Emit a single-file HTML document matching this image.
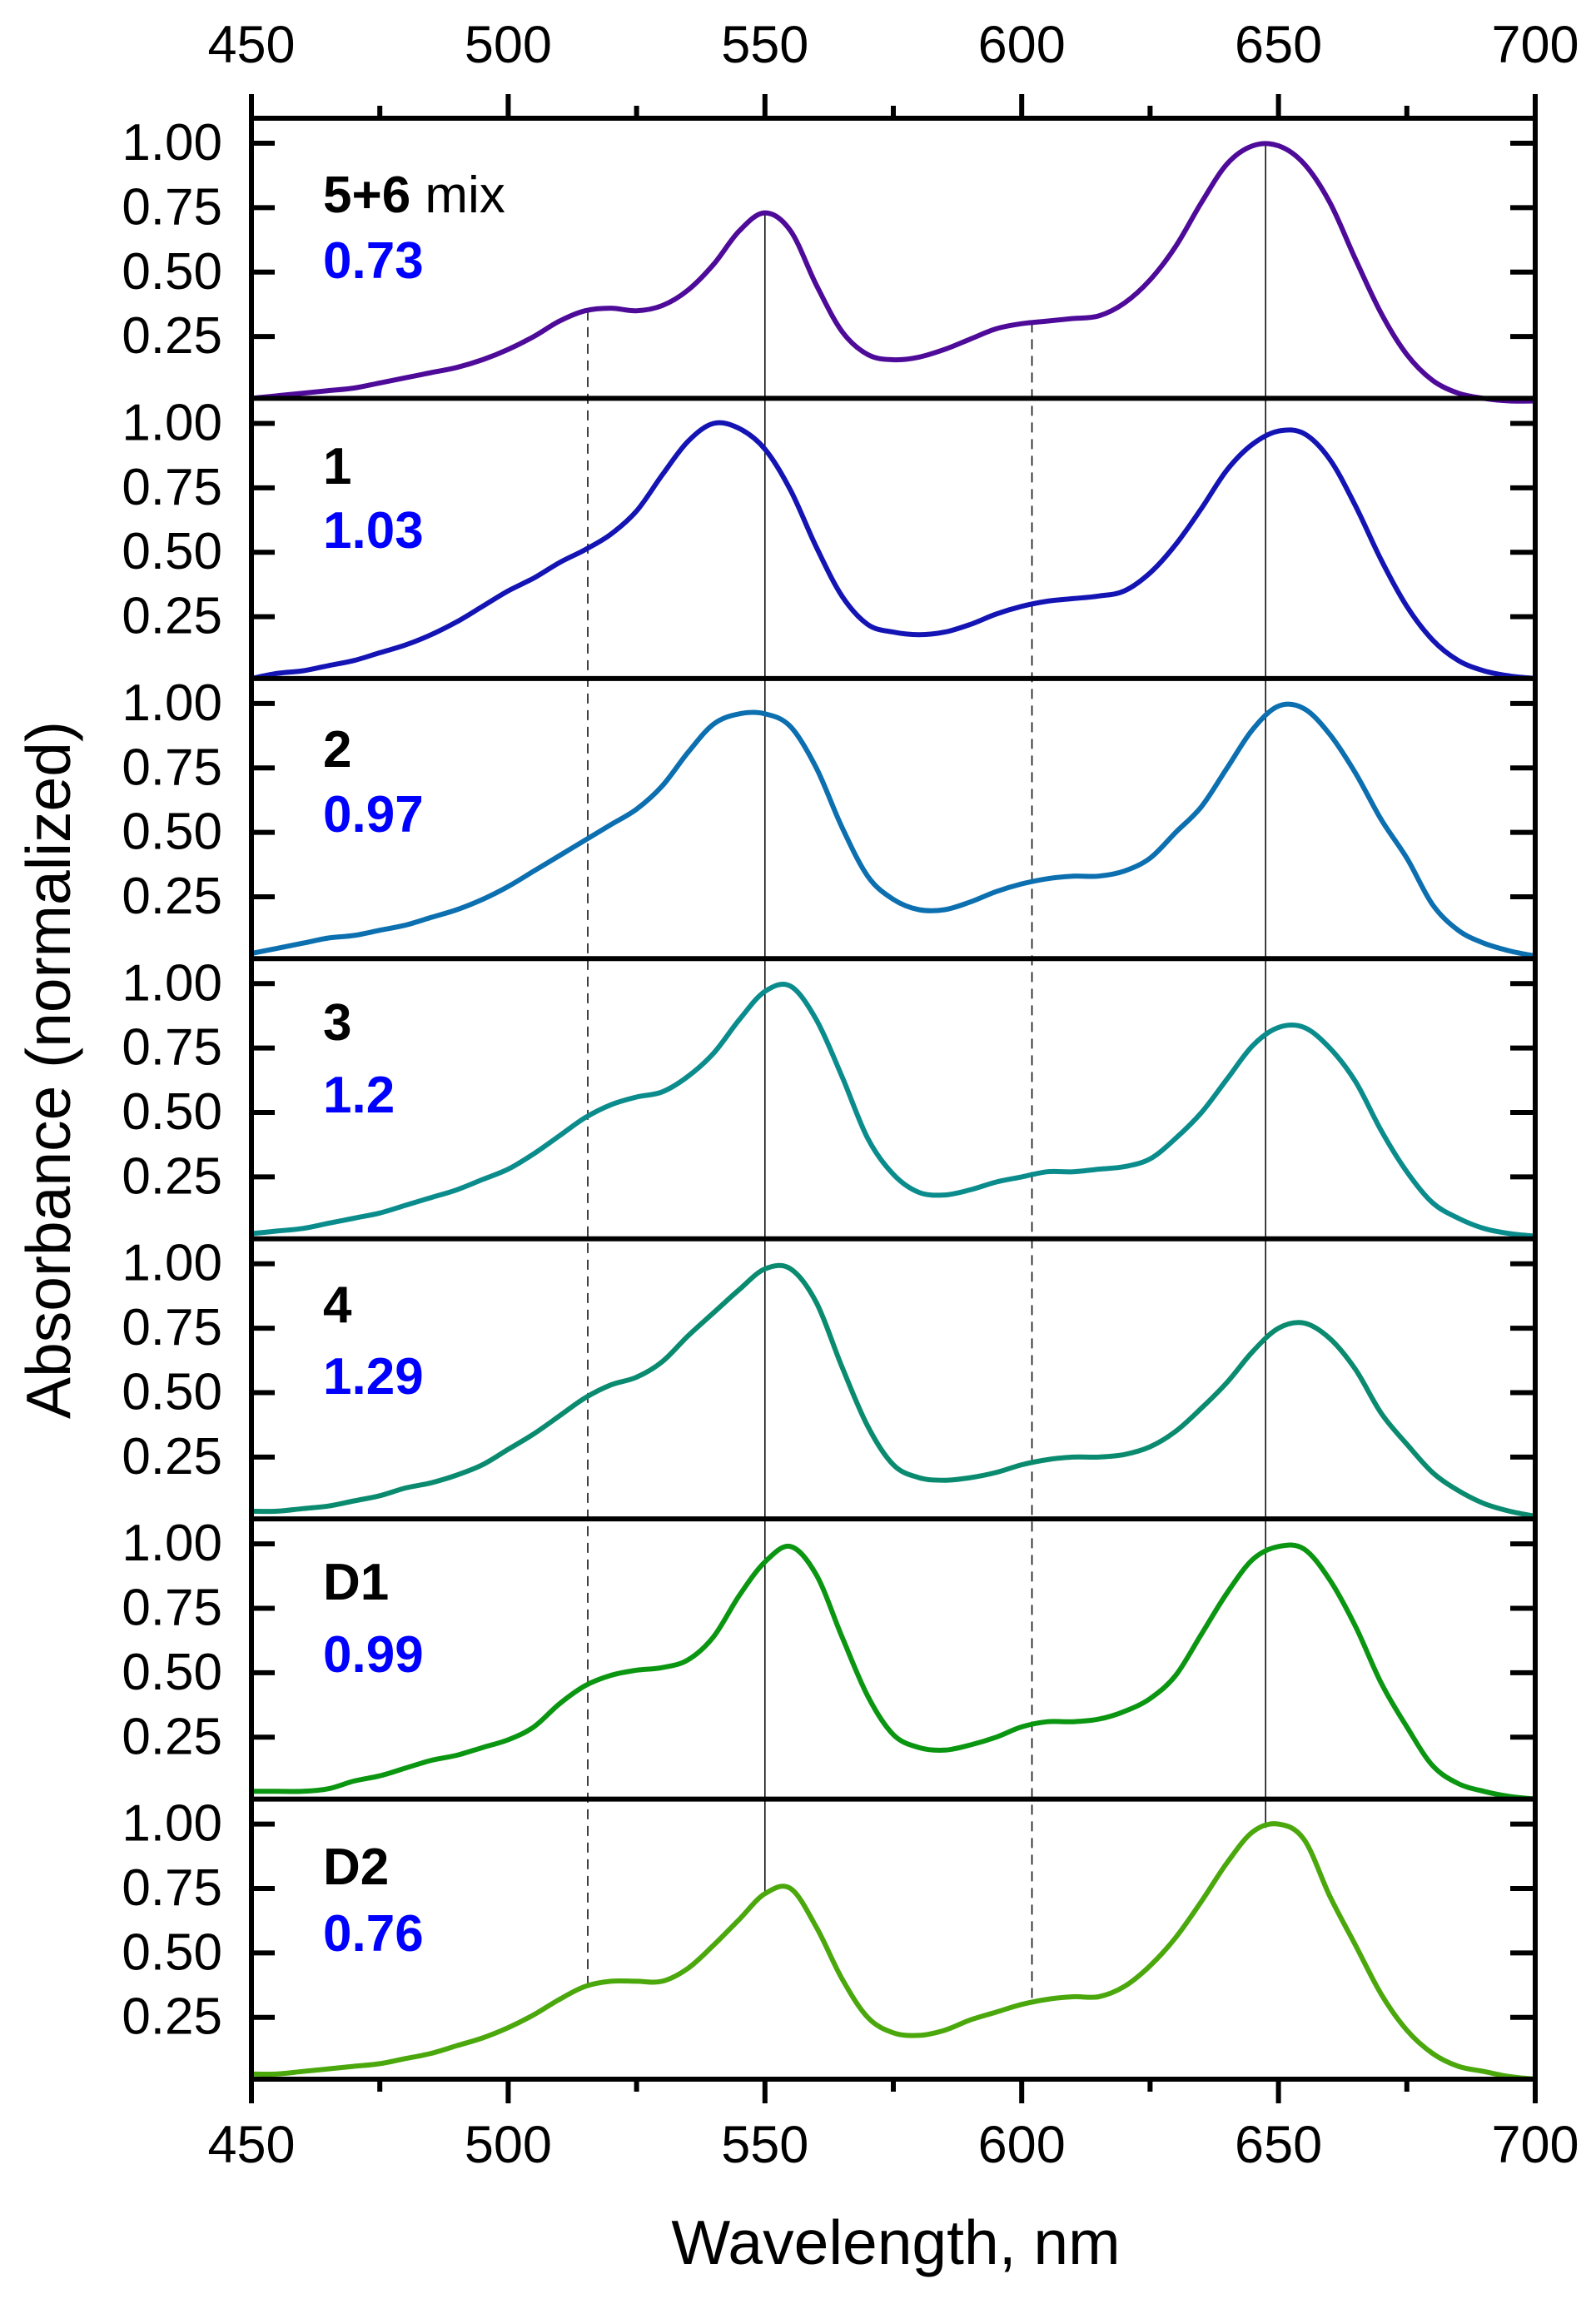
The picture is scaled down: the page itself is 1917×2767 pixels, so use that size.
<!DOCTYPE html>
<html><head><meta charset="utf-8"><style>
html,body{margin:0;padding:0;background:#fff;}
svg{display:block;font-family:"Liberation Sans",Arial,sans-serif;}
</style></head>
<body>
<svg id="chart" width="1917" height="2767" viewBox="0 0 1917 2767" xmlns="http://www.w3.org/2000/svg">
<g id="grid"></g>
<g id="curves"></g>
<g id="axes"></g>
<g id="labels"></g>
<text x="0" y="0" transform="translate(84,1285) rotate(-90)" text-anchor="middle" font-size="75">Absorbance (normalized)</text>
<text x="1076" y="2719" text-anchor="middle" font-size="75">Wavelength, nm</text>
</svg>
<script>
const wavelengths=[450,455,460,465,470,475,480,485,490,495,500,505,510,515,520,525,530,535,540,545,550,555,560,565,570,575,580,585,590,595,600,605,610,615,620,625,630,635,640,645,650,655,660,665,670,675,680,685,690,695,700];
const seriesMix=[.01,.02,.03,.04,.05,.07,.09,.11,.13,.16,.20,.25,.31,.35,.36,.35,.37,.43,.53,.66,.73,.66,.45,.27,.18,.16,.17,.20,.24,.28,.30,.31,.32,.33,.38,.47,.60,.77,.92,.99,.99,.92,.77,.55,.34,.18,.08,.03,.01,.0,.0];
const series1=[.01,.03,.04,.06,.08,.11,.14,.18,.23,.29,.35,.40,.46,.51,.57,.66,.80,.93,1.00,.98,.90,.74,.52,.33,.22,.19,.18,.19,.22,.26,.29,.31,.32,.33,.35,.42,.53,.67,.82,.92,.97,.96,.86,.68,.47,.29,.16,.08,.04,.02,.01];
const series2=[.03,.05,.07,.09,.10,.12,.14,.17,.20,.24,.29,.35,.41,.47,.53,.59,.68,.81,.92,.96,.96,.91,.75,.52,.33,.24,.20,.20,.23,.27,.30,.32,.33,.33,.35,.40,.50,.60,.75,.90,.99,.98,.88,.73,.55,.40,.22,.12,.07,.04,.02];
const series3=[.03,.04,.05,.07,.09,.11,.14,.17,.20,.24,.28,.34,.41,.48,.53,.56,.58,.64,.73,.86,.97,.99,.86,.64,.40,.26,.19,.18,.20,.23,.25,.27,.27,.28,.29,.32,.40,.50,.63,.76,.83,.83,.75,.62,.43,.27,.15,.09,.05,.03,.02];
const series4=[.04,.04,.05,.06,.08,.10,.13,.15,.18,.22,.28,.34,.41,.48,.53,.56,.62,.72,.81,.90,.98,.98,.85,.60,.37,.22,.17,.16,.17,.19,.22,.24,.25,.25,.26,.29,.35,.44,.54,.66,.75,.77,.71,.59,.42,.30,.19,.12,.07,.04,.02];
const seriesD1=[.04,.04,.04,.05,.08,.10,.13,.16,.18,.21,.24,.29,.38,.45,.49,.51,.52,.55,.64,.80,.93,.99,.88,.64,.41,.26,.21,.20,.22,.25,.29,.31,.31,.32,.35,.40,.49,.65,.81,.94,.99,.98,.86,.68,.46,.29,.14,.07,.04,.02,.01];
const seriesD2=[.03,.03,.04,.05,.06,.07,.09,.11,.14,.17,.21,.26,.32,.37,.39,.39,.39,.44,.53,.63,.73,.75,.60,.40,.25,.19,.18,.20,.24,.27,.30,.32,.33,.33,.37,.45,.56,.70,.85,.97,1.0,.94,.72,.53,.34,.20,.11,.06,.04,.02,.01];
const panelNames=["5+6","1","2","3","4","D1","D2"];
const panelValues=["0.73","1.03","0.97","1.2","1.29","0.99","0.76"];
const xTicks=[450,500,550,600,650,700];
const xMinorTicks=[475,525,575,625,675];
const yTicks=[0.25,0.50,0.75,1.00];
const yTickLabels=["0.25","0.50","0.75","1.00"];
const refSolid=[550,647.5];
const refDashed=[515.5,602];

const allSeries=[seriesMix,series1,series2,series3,series4,seriesD1,seriesD2];
const colors=["#4e0a98","#1414b4","#0c6fb0","#0b8c8c","#0a8b70","#0b9612","#4ba80c"];
const seriesNames=["mix","1","2","3","4","d1","d2"];
const labelBase=[[255,334],[581,658],[921,999],[1249,1336],[1588,1674],[1921,2008],[2263,2343]];
const L=302,R=1844,TOP=142,BOT=2497,PH=(BOT-TOP)/7;
const YMIN=0.01,YMAX=1.097;
const NS="http://www.w3.org/2000/svg";
function xs(w){return L+(w-450)/250*(R-L);}
function ys(v,p){const top=TOP+p*PH;return top+(YMAX-v)/(YMAX-YMIN)*PH;}
function mk(tag,attrs,parent){const e=document.createElementNS(NS,tag);for(const k in attrs)e.setAttribute(k,attrs[k]);parent.appendChild(e);return e;}
function interp(arr,w){for(let i=0;i<wavelengths.length-1;i++){if(w>=wavelengths[i]&&w<=wavelengths[i+1]){const t=(w-wavelengths[i])/(wavelengths[i+1]-wavelengths[i]);return arr[i]+(arr[i+1]-arr[i])*t;}}return arr[arr.length-1];}

const gGrid=document.getElementById('grid'),gC=document.getElementById('curves'),gA=document.getElementById('axes'),gL=document.getElementById('labels');

refSolid.concat(refDashed).forEach((w,i)=>{
  const y1=ys(interp(allSeries[0],w),0),y2=ys(interp(allSeries[6],w),6);
  const ln=mk('line',{x1:xs(w),x2:xs(w),y1:y1,y2:y2,stroke:'#000','stroke-width':1.5},gGrid);
  if(i>=refSolid.length)ln.setAttribute('stroke-dasharray','12,8');
  
  
});

allSeries.forEach((s,p)=>{
  const pts=s.map((v,i)=>[xs(wavelengths[i]),ys(v,p)]);
  let d='M'+pts[0][0].toFixed(1)+','+pts[0][1].toFixed(1);
  for(let i=0;i<pts.length-1;i++){
    const p0=pts[Math.max(0,i-1)],p1=pts[i],p2=pts[i+1],p3=pts[Math.min(pts.length-1,i+2)];
    const c1=[p1[0]+(p2[0]-p0[0])/6,p1[1]+(p2[1]-p0[1])/6];
    const c2=[p2[0]-(p3[0]-p1[0])/6,p2[1]-(p3[1]-p1[1])/6];
    d+=' C'+c1[0].toFixed(1)+','+c1[1].toFixed(1)+' '+c2[0].toFixed(1)+','+c2[1].toFixed(1)+' '+p2[0].toFixed(1)+','+p2[1].toFixed(1);
  }
  const path=mk('path',{d:d,fill:'none',stroke:colors[p],'stroke-width':6,'stroke-linejoin':'round'},gC);
  
  
});

for(let p=0;p<7;p++){
  const top=TOP+p*PH;
  yTicks.forEach((v,i)=>{
    const y=ys(v,p);
    const t1=mk('line',{x1:L,x2:L+28,y1:y,y2:y,stroke:'#000','stroke-width':6},gA);
    
    
    const t2=mk('line',{x1:R-30,x2:R,y1:y,y2:y,stroke:'#000','stroke-width':6},gA);
    
    
    const tx=mk('text',{x:267,y:y+20,'text-anchor':'end','font-size':62},gA);
    tx.textContent=yTickLabels[i];
    
    
  });
  if(p>0){
    const sep=mk('line',{x1:L,x2:R,y1:top,y2:top,stroke:'#000','stroke-width':6},gA);
    
    
  }
  const nm=mk('text',{x:388,y:labelBase[p][0],'font-size':62,'font-weight':'bold'},gL);
  nm.textContent=panelNames[p];
  if(p===0){const ts=mk('tspan',{'font-weight':'normal'},nm);ts.textContent=' mix';}
  
  
  const vv=mk('text',{x:388,y:labelBase[p][1],'font-size':62,'font-weight':'bold',fill:'#0000ff'},gL);
  vv.textContent=panelValues[p];
  
  
}
const fr=mk('rect',{x:L,y:TOP,width:R-L,height:BOT-TOP,fill:'none',stroke:'#000','stroke-width':6},gA);


xTicks.forEach(w=>{
  const x=xs(w);
  const a=mk('line',{x1:x,x2:x,y1:TOP-29,y2:TOP,stroke:'#000','stroke-width':6},gA);
  
  
  const b=mk('line',{x1:x,x2:x,y1:BOT,y2:BOT+29,stroke:'#000','stroke-width':6},gA);
  
  
  const t1=mk('text',{x:x,y:75,'text-anchor':'middle','font-size':63},gA);
  t1.textContent=w;
  
  
  const t2=mk('text',{x:x,y:2597,'text-anchor':'middle','font-size':63},gA);
  t2.textContent=w;
  
  
});
xMinorTicks.forEach(w=>{
  const x=xs(w);
  const a=mk('line',{x1:x,x2:x,y1:TOP-15,y2:TOP,stroke:'#000','stroke-width':6},gA);
  
  
  const b=mk('line',{x1:x,x2:x,y1:BOT,y2:BOT+15,stroke:'#000','stroke-width':6},gA);
  
  
});
</script>
</body></html>
